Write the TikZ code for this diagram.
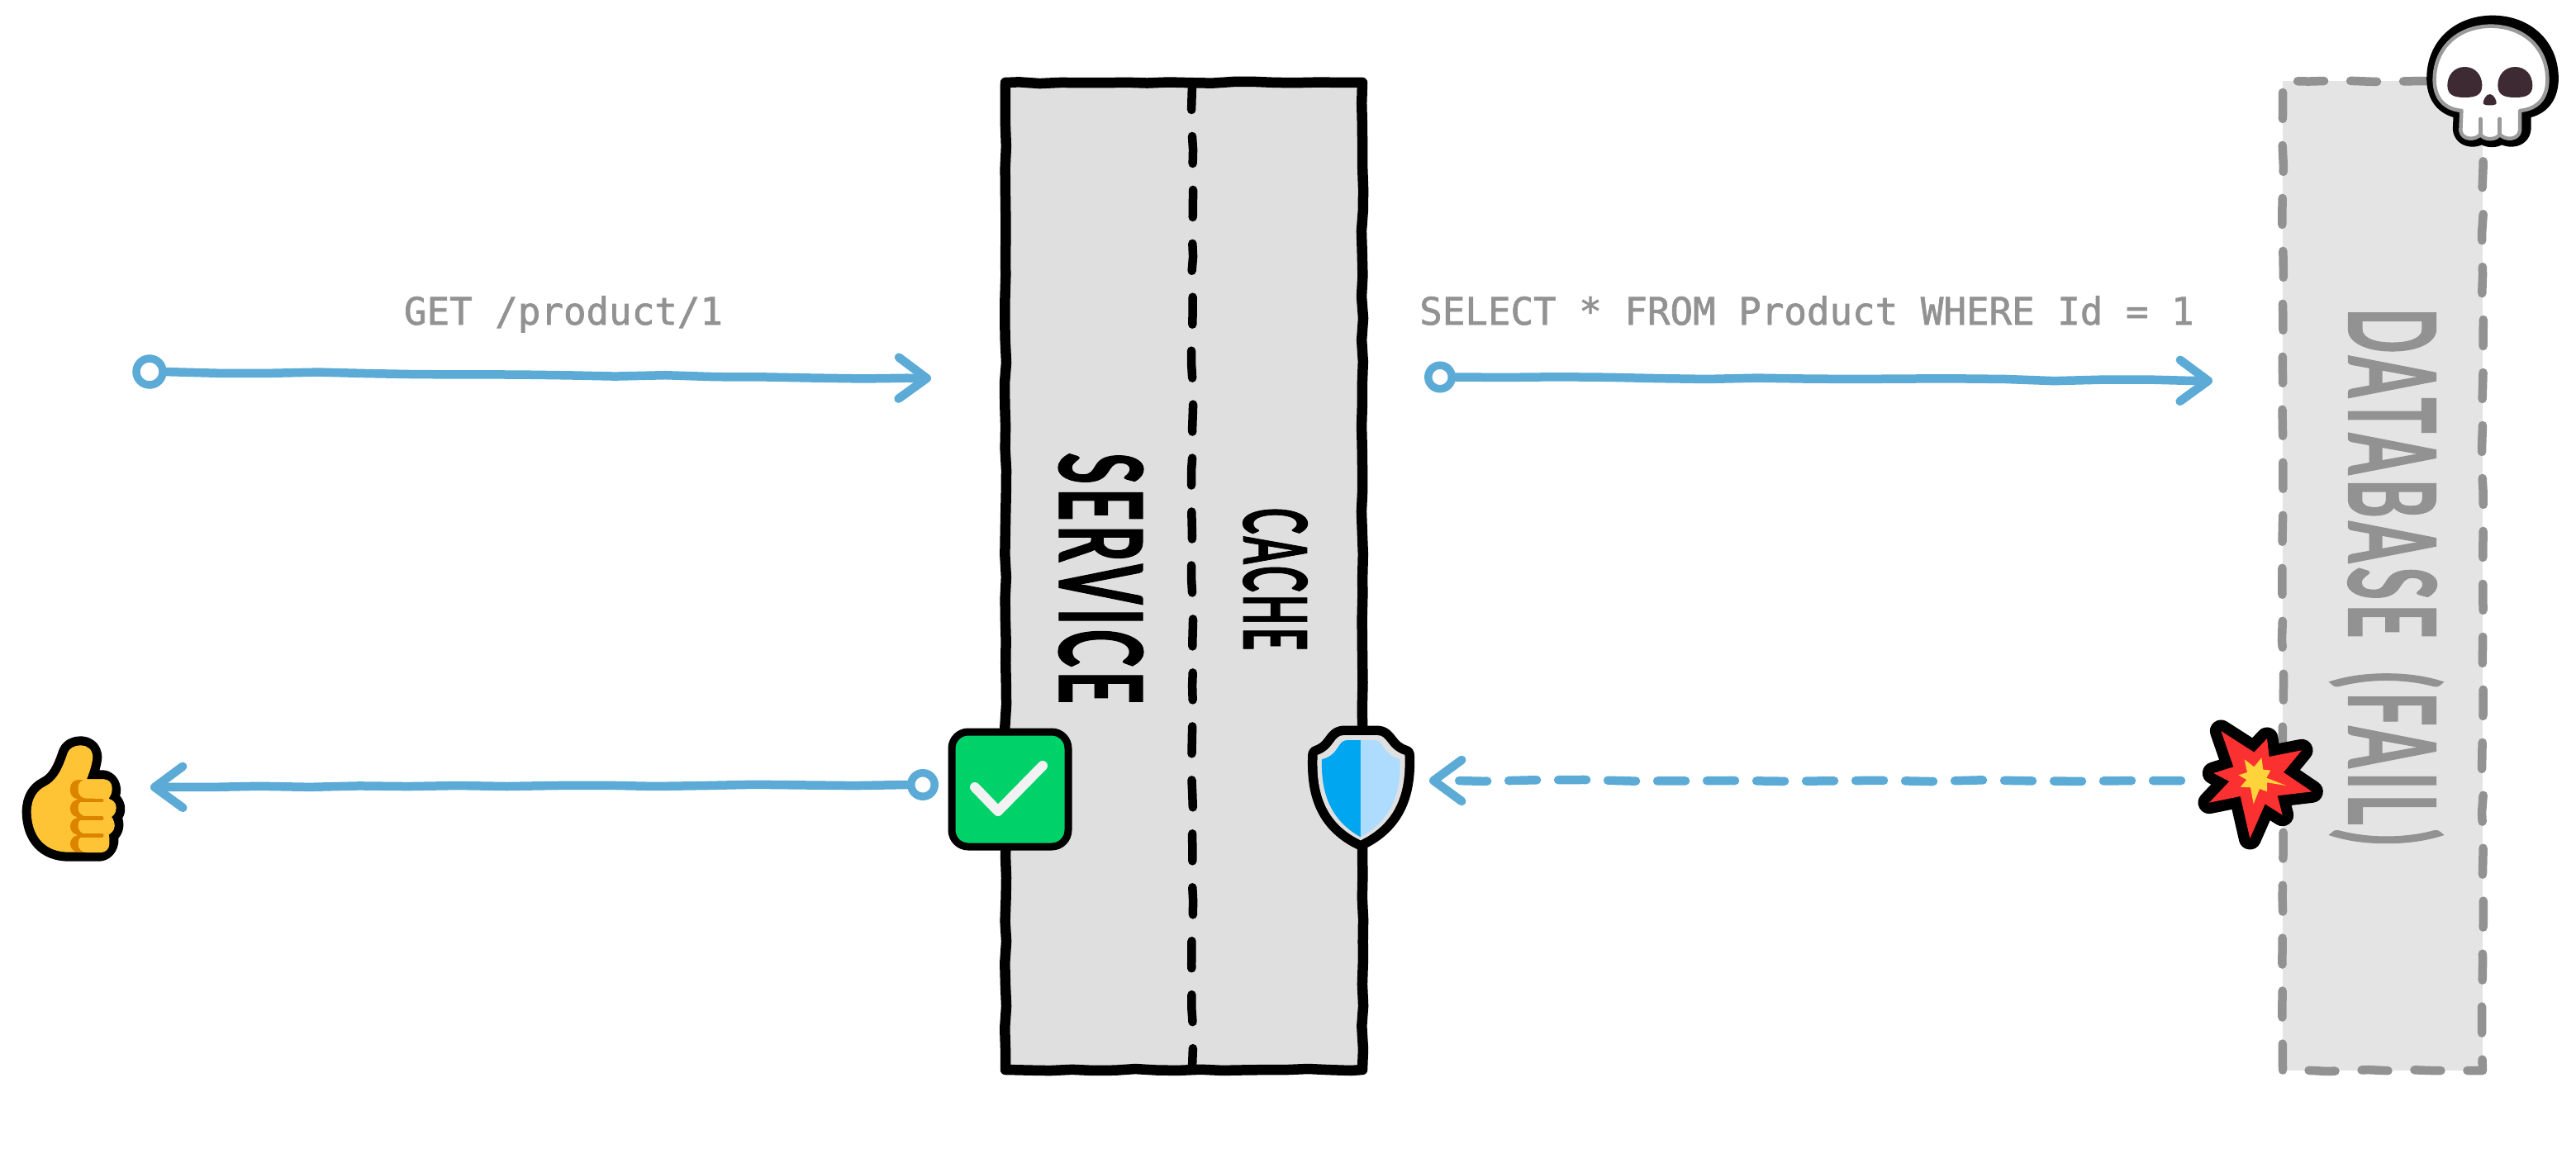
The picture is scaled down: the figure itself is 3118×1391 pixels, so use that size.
\documentclass[tikz,border=0pt]{standalone}
\usepackage{fontspec}
\usepackage{graphicx}
\usetikzlibrary{arrows.meta,decorations.pathmorphing}
\setmainfont{Lato}
\newfontfamily\codefont[FakeBold=1.5]{DejaVu Sans Mono}
\definecolor{flowblue}{HTML}{5BABD6}
\definecolor{boxgrey}{HTML}{DFDFDF}
\definecolor{dbgrey}{HTML}{E4E4E4}
\definecolor{dbline}{HTML}{929292}
\definecolor{labelgrey}{HTML}{929292}
\definecolor{thumby}{HTML}{FFC436}
\definecolor{thumbd}{HTML}{DC8400}
\definecolor{okgreen}{HTML}{00D26A}
\definecolor{okwhite}{HTML}{F2F2F2}
\definecolor{shieldd}{HTML}{00A6F0}
\definecolor{shieldl}{HTML}{AEDCFF}
\definecolor{shieldo}{HTML}{E0E0E0}
\definecolor{skulleye}{HTML}{3E2A32}
\definecolor{skullline}{HTML}{9A9A9A}
\definecolor{boomred}{HTML}{FB3030}
\definecolor{boomy}{HTML}{FFD43A}
\tikzset{
  wob/.style={decorate,decoration={random steps,segment length=26pt,amplitude=1.1pt,pre length=2pt,post length=2pt}},
  servicebox/.style={draw=black,fill=boxgrey,line width=12.5pt,line join=round,inner sep=0pt},
  dbbox/.style={fill=dbgrey,inner sep=0pt},
  dbedge/.style={draw=dbline,line width=10.5pt,line cap=round,line join=round,dash pattern=on 32pt off 32pt,wob},
  divider/.style={draw=black,line width=10.5pt,line cap=round,dash pattern=on 33pt off 32pt,wob},
  flow/.style={draw=flowblue,line width=10.5pt,line cap=round,line join=round,
    -{Straight Barb[length=34pt,width=50pt,line width=10.5pt,round]},
    decorate,decoration={random steps,segment length=60pt,amplitude=1.2pt,pre length=4pt,post length=30pt}},
  dashflow/.style={flow,dash pattern=on 34pt off 26pt},
  tailring/.style={circle,draw=flowblue,line width=9.5pt,minimum size=28.5pt,inner sep=0pt},
  codelabel/.style={font=\codefont\fontsize{45.8}{50}\selectfont,text=labelgrey,inner sep=0pt,anchor=base},
  handlabel/.style={rotate=-90,inner sep=0pt,font=\bfseries\addfontfeature{LetterSpace=7,FakeBold=1.5}},
  iconline/.style={line join=round,line cap=round},
}
\begin{document}
\begin{tikzpicture}[x=1pt,y=-1pt]
\pgfmathsetseed{17}
\useasboundingbox (0,0) rectangle (3118,1391);

% service box and divider
\node[servicebox,wob,minimum width=432pt,minimum height=1195pt] (service) at (1433,697.5) {};
\coordinate (divtop) at (1443,100);
\coordinate (divbot) at (1443,1295);
\draw[divider] (divtop) -- (divbot);
\node[handlabel,text=black] (servicetxt) at (1332.5,700) {\resizebox{304pt}{101pt}{SERVICE}};
\node[handlabel,text=black] (cachetxt) at (1543.5,701) {\resizebox{172pt}{77pt}{CACHE}};

% database box
\node[dbbox,minimum width=242pt,minimum height=1198pt] (db) at (2884,697) {};
\coordinate (dba) at (2763,98);
\coordinate (dbb) at (3005,98);
\coordinate (dbc) at (3005,1296);
\coordinate (dbd) at (2763,1296);
\draw[dbedge] (dbb) -- (dba) -- (dbd) -- (dbc) -- (dbb);
\node[handlabel,text=dbline] (dbtxt) at (2888.5,698) {\resizebox*{650pt}{137pt}{DATABASE \kern.25em(FAIL)}};

% labels
\node[codelabel] (getlbl) at (682,393) {GET /product/1};
\node[codelabel] (sqllbl) at (2187,393) {SELECT * FROM Product WHERE Id = 1};

% connectors
\node[tailring,minimum width=26pt,minimum height=32pt] (ring1) at (181,450) {};
\coordinate (tip1) at (1127,458);
\draw[flow] (ring1) -- (tip1);
\node[tailring] (ring2) at (1743,456.5) {};
\coordinate (tip2) at (2678,461);
\draw[flow] (ring2) -- (tip2);
\coordinate (start3) at (2640,945);
\coordinate (tip3) at (1730,945);
\draw[dashflow] (start3) -- (tip3);
\node[tailring] (ring4) at (1117,950) {};
\coordinate (tip4) at (182,953);
\draw[flow] (ring4) -- (tip4);

% thumb
\begin{scope}[shift={(0,850)},x=0.33333pt,y=-0.33333pt]
  \def\thumbpath{(245,185) .. controls (255,150) and (335,140) .. (337,200) .. controls (335,225) and (325,255) .. (315,280)
    -- (375,280) .. controls (405,285) and (415,325) .. (395,350)
    .. controls (425,365) and (430,400) .. (405,417) .. controls (420,435) and (420,465) .. (395,482)
    .. controls (405,515) and (385,545) .. (360,545) -- (250,545)
    .. controls (165,545) and (115,490) .. (113,400) .. controls (113,350) and (135,320) .. (165,305)
    .. controls (205,285) and (225,245) .. (245,185) -- cycle}
  \draw[black,line width=22pt,iconline] \thumbpath;
  \fill[thumby] \thumbpath;
  \fill[thumbd,rounded corners=10pt] (255,282) rectangle (360,352);
  \fill[thumbd,rounded corners=10pt] (255,354) rectangle (360,418);
  \fill[thumbd,rounded corners=10pt] (255,420) rectangle (360,482);
  \fill[thumbd,rounded corners=10pt] (255,484) rectangle (360,545);
  \fill[thumby,rounded corners=10pt] (284,280) rectangle (407,350);
  \fill[thumby,rounded corners=10pt] (284,352) rectangle (422,415);
  \fill[thumby,rounded corners=10pt] (284,417) rectangle (416,480);
  \fill[thumby,rounded corners=10pt] (284,482) rectangle (397,546);
  \draw[thumbd,line width=4.5pt,iconline] (285,357) -- (370,357);
  \draw[thumbd,line width=4.5pt,iconline] (285,421) -- (370,421);
  \draw[thumbd,line width=4.5pt,iconline] (285,485) -- (370,485);
\end{scope}

% green check
\draw[black,fill=okgreen,line width=9pt,rounded corners=20pt] (1152,886) rectangle (1293,1025);
\draw[okwhite,line width=12pt,iconline] (1180,953) -- (1208,982) -- (1262,927);

% shield
\begin{scope}[shift={(1100,840)},x=0.44643pt,y=-0.33333pt]
  \def\shieldpath{(1225,150) -- (1180,150) .. controls (1150,150) and (1155,200) .. (1108,222)
    .. controls (1105,330) and (1115,460) .. (1225,532)
    .. controls (1335,460) and (1348,330) .. (1345,222)
    .. controls (1295,200) and (1300,150) .. (1270,150) -- cycle}
  \draw[black,line width=23pt,iconline] \shieldpath;
  \fill[shieldo] \shieldpath;
  \fill[shieldd] (1225,168) -- (1190,168) .. controls (1160,168) and (1170,220) .. (1120,238)
    .. controls (1118,330) and (1130,450) .. (1225,520) -- cycle;
  \fill[shieldl] (1225,168) -- (1262,168) .. controls (1290,168) and (1282,220) .. (1332,238)
    .. controls (1334,330) and (1322,450) .. (1225,520) -- cycle;
\end{scope}

% explosion
\begin{scope}[shift={(2620,840)},x=0.33333pt,y=-0.33333pt]
  \def\boompath{(205,135) -- (325,212) -- (372,162) -- (380,228) -- (498,205) -- (432,285) -- (535,355) -- (410,370)
    -- (428,440) -- (365,400) -- (310,525) -- (275,372) -- (162,395) -- (235,318) -- (178,288) -- (250,265) -- cycle}
  \draw[black,line width=27pt,iconline] \boompath;
  \fill[boomred] \boompath;
  \fill[boomy] (290,238) -- (325,265) -- (352,232) -- (358,275) -- (385,278) -- (370,305) -- (442,333) -- (372,322)
    -- (372,355) -- (345,345) -- (323,400) -- (312,340) -- (275,338) -- (298,312) -- (268,295) -- (300,285) -- cycle;
\end{scope}

% skull
\begin{scope}[shift={(2600,0)},x=0.33333pt,y=-0.33333pt]
  \def\skullpath{(1138,402) .. controls (1065,395) and (1040,345) .. (1040,290)
    .. controls (1040,170) and (1130,95) .. (1245,95)
    .. controls (1360,95) and (1450,170) .. (1450,290)
    .. controls (1450,345) and (1425,395) .. (1350,402)
    -- (1350,475) .. controls (1345,510) and (1295,510) .. (1277,488)
    .. controls (1265,510) and (1220,510) .. (1207,488)
    .. controls (1190,510) and (1140,510) .. (1135,475) -- cycle}
  \begin{scope}[xshift=2pt,yshift=1.5pt]
    \draw[black,line width=23pt,iconline] \skullpath;
  \end{scope}
  \draw[skullline,fill=white,line width=4.5pt,iconline] \skullpath;
  \draw[skullline,line width=4.5pt,iconline] (1207,432) -- (1207,488);
  \draw[skullline,line width=4.5pt,iconline] (1277,432) -- (1277,488);
  \fill[skulleye] (1150,243) .. controls (1190,243) and (1213,275) .. (1213,310) .. controls (1213,345) and (1190,354) .. (1150,354)
    .. controls (1110,354) and (1087,345) .. (1087,310) .. controls (1087,275) and (1110,243) .. (1150,243) -- cycle;
  \fill[skulleye] (1333,243) .. controls (1373,243) and (1396,275) .. (1396,310) .. controls (1396,345) and (1373,354) .. (1333,354)
    .. controls (1293,354) and (1270,345) .. (1270,310) .. controls (1270,275) and (1293,243) .. (1333,243) -- cycle;
  \fill[skulleye] (1241,342) .. controls (1255,342) and (1266,365) .. (1265,375) .. controls (1265,385) and (1217,385) .. (1217,375)
    .. controls (1216,365) and (1227,342) .. (1241,342) -- cycle;
\end{scope}
\end{tikzpicture}
\end{document}
